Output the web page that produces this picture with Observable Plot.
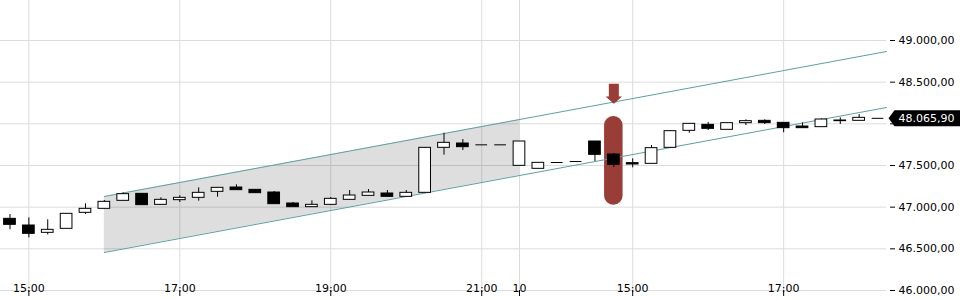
<!DOCTYPE html>
<html><head><meta charset="utf-8">
<script src="https://cdn.jsdelivr.net/npm/d3@7"></script>
<script src="https://cdn.jsdelivr.net/npm/@observablehq/plot@0.6"></script>
<style>body{margin:0;background:#fff} #chart{width:960px;height:300px}</style>
</head><body><div id="chart"></div>
<script>
// 15-minute candles, index 0 = 14:45 (day 1) ... index 46 = last candle (day 2)
const opens  = [46860,46780,46692,46740,46932,46980,47076,47160,47028,47084,47112,47184,47236,47208,47176,47044,47000,47028,47088,47136,47164,47124,47172,47712,47764,47748,47748,47496,47460,47536,47548,47788,47632,47528,47520,47712,47916,47988,47928,48008,48036,48012,47968,47960,48032,48036,48065.9];
const highs  = [46912,46872,46848,46920,47040,47080,47172,47160,47112,47136,47232,47236,47268,47208,47188,47056,47076,47116,47200,47212,47200,47200,47712,47888,47812,47748,47748,47788,47532,47536,47548,47788,47644,47580,47740,47912,48000,48016,48008,48048,48048,48012,48012,48060,48072,48112,48065.9];
const lows   = [46728,46632,46668,46740,46912,46980,47076,47024,47028,47056,47072,47120,47200,47168,47036,47000,47000,47028,47088,47136,47124,47124,47172,47624,47680,47748,47748,47496,47460,47536,47548,47548,47476,47472,47520,47712,47888,47920,47928,47980,47992,47892,47948,47960,47992,48036,48065.9];
const closes = [46788,46680,46728,46920,46980,47064,47156,47024,47088,47112,47172,47232,47204,47168,47036,47000,47028,47100,47140,47176,47124,47172,47712,47772,47720,47748,47748,47788,47532,47536,47548,47628,47508,47512,47708,47912,48000,47940,48008,48032,48008,47948,47948,48052,48040,48072,48065.9];

const xTickIndex  = [1, 9, 17, 25, 27, 33, 41];
const xTickLabels = ["15:00","17:00","19:00","21:00","10","15:00","17:00"];
const yTicks = [46000,46500,47000,47500,48000,48500,49000];
const lastPrice = [48065.9];

// trend channel endpoints [index, value]
const upperLine = [[5, 47128], [46.45, 48868]];
const lowerLine = [[5, 46456], [46.45, 48196]];
const shadeRange = [5, 27];

// highlight + arrow annotation
const highlight = [{i: 32, low: 47024, high: 48088}];
const arrowSpec = {i: 32, top: 48480, base: 48328, tip: 48240};

const X_DOMAIN = [-0.503, 46.45];
const Y_DOMAIN = [46000, 49480];
const MR = 74, MB = 10, W = 960, H = 300;
const pxPerIdx = (W - MR) / (X_DOMAIN[1] - X_DOMAIN[0]);
const ptPerPx = (Y_DOMAIN[1] - Y_DOMAIN[0]) / (H - MB);

const data = opens.map((o, i) => ({i, open: o, high: highs[i], low: lows[i], close: closes[i]}));
const bodies = data.filter(d => d.open !== d.close);
const dojis = data.filter(d => d.open === d.close);

const lerp = (line, x) => line[0][1] + (line[1][1] - line[0][1]) * (x - line[0][0]) / (line[1][0] - line[0][0]);
const channelArea = shadeRange.map(x => ({i: x, upper: lerp(upperLine, x), lower: lerp(lowerLine, x)}));
const toPts = line => line.map(([i, v]) => ({i, v}));

const hs = 0.265, hh = 0.44;
const a = arrowSpec;
const arrowPoly = [
  {i: a.i - hs, v: a.top}, {i: a.i + hs, v: a.top}, {i: a.i + hs, v: a.base},
  {i: a.i + hh, v: a.base}, {i: a.i, v: a.tip}, {i: a.i - hh, v: a.base},
  {i: a.i - hs, v: a.base}
];

// price tag polygon (pointer + box) to the right of the frame, in scale units
const lp = lastPrice[0];
const xr = X_DOMAIN[1];
const tagPoly = [
  {i: xr + 2 / pxPerIdx, v: lp},
  {i: xr + 8 / pxPerIdx, v: lp + 8 * ptPerPx},
  {i: xr + 80 / pxPerIdx, v: lp + 8 * ptPerPx},
  {i: xr + 80 / pxPerIdx, v: lp - 8 * ptPerPx},
  {i: xr + 8 / pxPerIdx, v: lp - 8 * ptPerPx}
];

const fmt = d3.formatLocale({decimal: ",", thousands: ".", grouping: [3], currency: ["", ""]}).format(",.2f");
const HW = 0.31;
const RED = "#993d37";
const TEAL = "#5f9ea3";

const chart = Plot.plot({
  width: W, height: H,
  marginLeft: 0, marginRight: MR, marginTop: 0, marginBottom: MB,
  style: {fontFamily: "DejaVu Sans", fontSize: "11px", background: "#fff", color: "#000"},
  x: {type: "linear", domain: X_DOMAIN, label: null},
  y: {domain: Y_DOMAIN, label: null},
  marks: [
    Plot.gridX(xTickIndex, {stroke: "#dcdcdc", strokeOpacity: 1}),
    Plot.gridY(yTicks, {stroke: "#dcdcdc", strokeOpacity: 1}),
    Plot.areaY(channelArea, {x: "i", y1: "lower", y2: "upper", fill: "#000", fillOpacity: 0.13}),
    Plot.rect(highlight, {x1: d => d.i - 0.49, x2: d => d.i + 0.49, y1: "low", y2: "high", fill: RED, rx: 9}),
    Plot.line(toPts(upperLine), {x: "i", y: "v", stroke: TEAL, strokeWidth: 1}),
    Plot.line(toPts(lowerLine), {x: "i", y: "v", stroke: TEAL, strokeWidth: 1}),
    Plot.line(arrowPoly, {x: "i", y: "v", fill: RED, stroke: "none"}),
    Plot.ruleX(data, {x: "i", y1: "low", y2: "high", stroke: "#000", strokeWidth: 1}),
    Plot.rect(bodies, {x1: d => d.i - HW, x2: d => d.i + HW, y1: "open", y2: "close",
      fill: d => d.close < d.open ? "#000" : "#fff", stroke: "#000", strokeWidth: 1}),
    Plot.ruleY(dojis, {y: "close", x1: d => d.i - HW, x2: d => d.i + HW, stroke: "#000", strokeWidth: 1}),
    Plot.axisY({anchor: "right", ticks: yTicks, tickFormat: d => d === 48000 ? "" : fmt(d), tickSize: 5, tickPadding: 4, dx: 3, label: null}),
    Plot.axisX({ticks: xTickIndex, tickFormat: () => "", tickSize: 6, label: null}),
    Plot.text(xTickIndex, {x: d => d, text: (d, j) => xTickLabels[j], frameAnchor: "bottom", lineAnchor: "bottom", dy: 1, fill: "#000"}),
    Plot.line(tagPoly, {x: "i", y: "v", fill: "#000", stroke: "none", clip: false}),
    Plot.text(lastPrice, {y: d => d, text: d => fmt(d), frameAnchor: "right", textAnchor: "start", dx: 12, fill: "#fff", fontSize: 11})
  ]
});
document.getElementById("chart").appendChild(chart);
</script>
</body></html>
